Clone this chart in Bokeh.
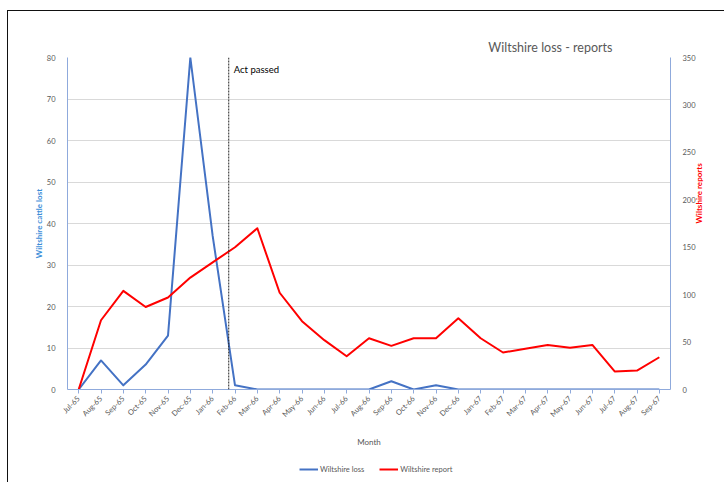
from bokeh.plotting import figure
from bokeh.layouts import column
from bokeh.models import (ColumnDataSource, FactorRange, Range1d, LinearAxis,
                          SingleIntervalTicker, Span, Label, Legend, LegendItem, Title)
from bokeh.embed import file_html
from bokeh.resources import INLINE
import math

months = ["Jul-65", "Aug-65", "Sep-65", "Oct-65", "Nov-65", "Dec-65", "Jan-66",
          "Feb-66", "Mar-66", "Apr-66", "May-66", "Jun-66", "Jul-66", "Aug-66",
          "Sep-66", "Oct-66", "Nov-66", "Dec-66", "Jan-67", "Feb-67", "Mar-67",
          "Apr-67", "May-67", "Jun-67", "Jul-67", "Aug-67", "Sep-67"]
wiltshire_loss = [0, 7, 1, 6, 13, 80, 37, 1, 0, 0, 0, 0, 0, 0,
                  2, 0, 1, 0, 0, 0, 0, 0, 0, 0, 0, 0, 0]
wiltshire_report = [0, 73, 104, 87, 97, 118, 134, 150, 170, 102, 72, 52, 35, 54,
                    46, 54, 54, 75, 54, 39, 43, 47, 44, 47, 19, 20, 34]
series_names = ["Wiltshire loss", "Wiltshire report"]
act_passed_pos = 7.22   # between Jan-66 and Feb-66 on the category scale
act_label_y = 77

FONT = "Lato"
GREY = "#595959"
AXIS_BLUE = "#8FAADC"
BLUE = "#4472C4"
RED = "#FF0000"

src = ColumnDataSource(dict(month=months, loss=wiltshire_loss, report=wiltshire_report))

p = figure(x_range=FactorRange(*months), y_range=Range1d(0, 80),
           width=716, height=439, output_backend="svg", toolbar_location=None,
           min_border_left=59, min_border_right=54, min_border_top=46, min_border_bottom=49)
p.extra_y_ranges = {"right": Range1d(0, 350)}
p.outline_line_color = None
p.background_fill_color = "white"
p.border_fill_color = "white"

title = Title(text="Wiltshire loss - reports", align="right", offset=58,
              text_font=FONT, text_font_size="12.5px", text_font_style="normal",
              text_color=GREY, standoff=6)
p.add_layout(title, "above")

# lines
p.line("month", "loss", source=src, color=BLUE, line_width=2, line_join="round")
p.line("month", "report", source=src, color=RED, line_width=2, line_join="round",
       y_range_name="right")

# left axis
ya = p.yaxis[0]
ya.ticker = SingleIntervalTicker(interval=10)
ya.axis_label = "Wiltshire cattle lost"
ya.axis_label_text_color = "#3A8DD8"
ya.axis_label_text_font = FONT
ya.axis_label_text_font_size = "8px"
ya.axis_label_text_font_style = "bold"
ya.axis_label_standoff = 0

# right axis
ra = LinearAxis(y_range_name="right", ticker=SingleIntervalTicker(interval=50),
                axis_label="Wiltshire reports")
p.add_layout(ra, "right")
ra.axis_label_text_color = RED
ra.axis_label_text_font_style = "bold"
ra.axis_label_text_font = FONT
ra.axis_label_text_font_size = "8px"
ra.axis_label_standoff = 0
ra.axis_label_orientation = math.pi / 2
ra.axis_label_text_align = "center"
ra.axis_label_text_baseline = "middle"

for ax in (ya, ra):
    ax.axis_line_color = AXIS_BLUE
    ax.major_tick_line_color = None
    ax.minor_tick_line_color = None
    ax.major_label_text_color = GREY
    ax.major_label_text_font = FONT
    ax.major_label_text_font_size = "7.5px"
    ax.major_label_standoff = 6

xa = p.xaxis[0]
xa.axis_label = "Month"
xa.axis_label_text_color = GREY
xa.axis_label_text_font = FONT
xa.axis_label_text_font_size = "8px"
xa.axis_label_text_font_style = "normal"
xa.axis_line_color = AXIS_BLUE
xa.major_tick_line_color = AXIS_BLUE
xa.major_tick_out = 4
xa.major_tick_in = 0
xa.major_label_orientation = math.pi / 4
xa.major_label_text_color = GREY
xa.major_label_text_font = FONT
xa.major_label_text_font_size = "7.5px"
xa.major_label_standoff = 4
xa.axis_label_standoff = 12

p.xgrid.grid_line_color = None
p.ygrid.grid_line_color = "#D9D9D9"
p.ygrid.ticker = SingleIntervalTicker(interval=10)

# Act passed marker
p.add_layout(Span(location=act_passed_pos, dimension="height", line_color="#222222",
                  line_width=1, line_dash="2 1"))
p.add_layout(Label(x=act_passed_pos, y=act_label_y, text="Act passed", x_offset=5,
                   text_font=FONT, text_font_size="9.5px", text_color="#000000",
                   text_baseline="middle"))

# legend strip below the chart (series drawn out of its visible range; only the legend shows)
lf = figure(width=716, height=32, output_backend="svg", toolbar_location=None,
            x_range=FactorRange(*months), y_range=Range1d(1000, 1001),
            min_border=0, min_border_left=0, min_border_right=0,
            min_border_top=0, min_border_bottom=0)
lf.axis.visible = False
lf.grid.visible = False
lf.outline_line_color = None
lf.border_fill_color = "white"
lg_loss = lf.line("month", "loss", source=src, color=BLUE, line_width=2)
lg_rep = lf.line("month", "report", source=src, color=RED, line_width=2)
legend = Legend(items=[LegendItem(label=series_names[0], renderers=[lg_loss]),
                       LegendItem(label=series_names[1], renderers=[lg_rep])],
                orientation="horizontal", location=(232, 7),
                label_text_font=FONT, label_text_font_size="7.5px", label_text_color=GREY,
                border_line_color=None, background_fill_alpha=0,
                glyph_width=19, glyph_height=12, label_standoff=2, spacing=15,
                padding=4, margin=0)
lf.add_layout(legend, "center")

layout = column(p, lf, spacing=0,
                styles={"margin-left": "7px", "margin-top": "10px",
                        "border-left": "1px solid #111111",
                        "border-top": "1px solid #111111"})

open("out.html", "w").write(file_html(layout, INLINE))
